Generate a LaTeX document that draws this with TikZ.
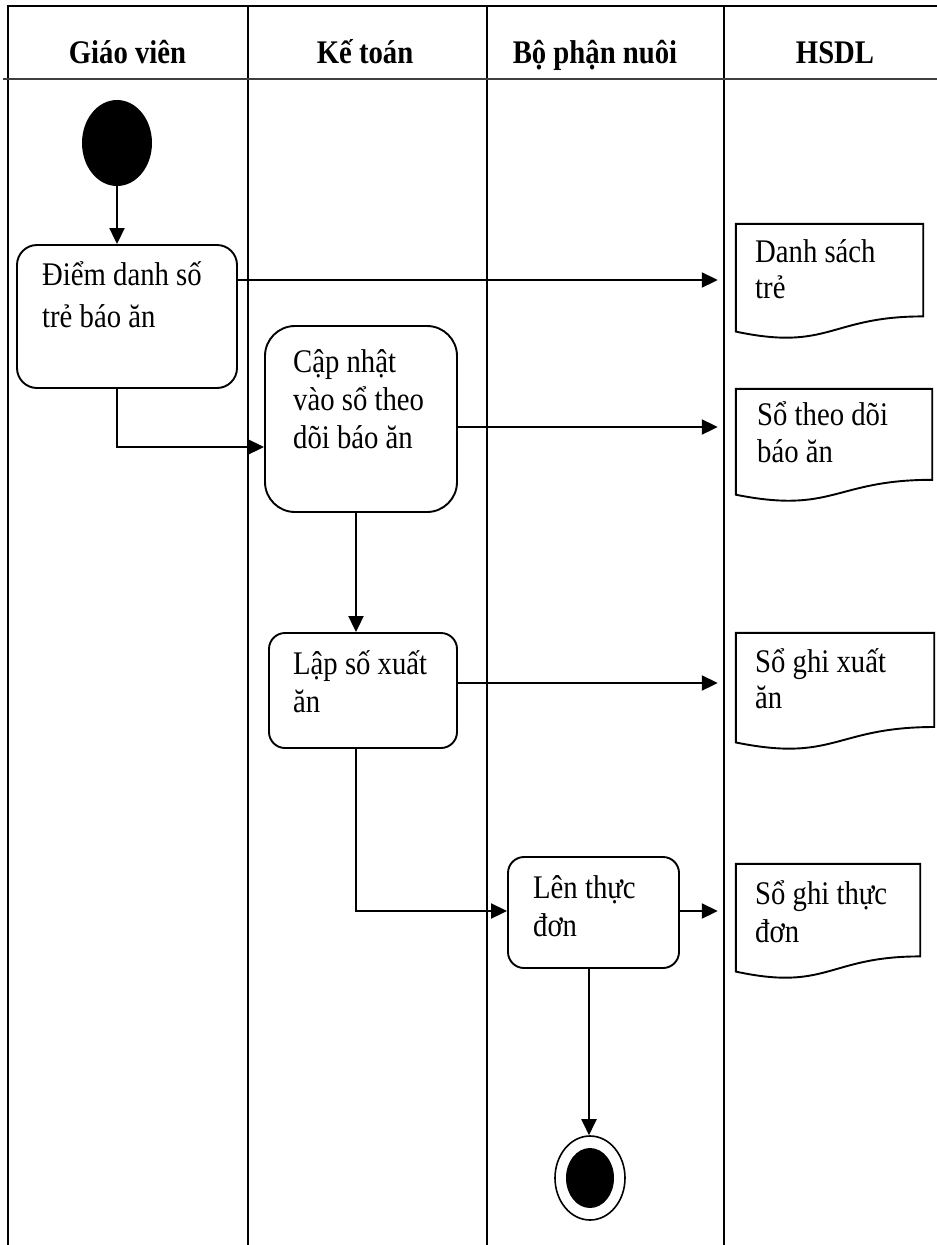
\documentclass[tikz,border=0pt]{standalone}
\usepackage{fontspec}
\setmainfont{Liberation Serif}[FakeStretch=0.87]
\usetikzlibrary{arrows.meta,shapes.geometric,calc}

% outline of a document symbol: flat top, wavy bottom edge
\newcommand\docoutline[2]{%
  \draw[docline] (#1.north west) -- (#1.north east) -- (#1.south east)
    .. controls (#1.south) and ($(#1.south)+(0,0.305*#2)$) ..
    ($(#1.south west)+(0,0.132*#2)$) -- cycle;}
% first-line strut for the labels
\newcommand\topstrut{\rule{0pt}{34pt}}

\begin{document}
\begin{tikzpicture}[x=1pt,y=-1pt,
  lane/.style={line width=2pt},
  actbox/.style={draw,line width=1.9pt,rounded corners=#1,inner sep=0pt,fill=white},
  docnode/.style={draw=none,inner sep=0pt},
  docline/.style={line width=1.9pt},
  flow/.style={line width=2pt,-{Triangle[length=16pt,width=15pt]}},
  txt/.style={anchor=north west,inner sep=0pt,align=left,font=\fontsize{33}{38}\selectfont},
  head/.style={anchor=base,inner sep=0pt,font=\fontsize{33}{38}\selectfont\bfseries}
]
\useasboundingbox (0,0) rectangle (937,1245);

% swimlane frame
\draw[lane] (937,6) -- (8,6) -- (8,1245);
\draw[lane] (248,6) -- (248,1245);
\draw[lane] (487,6) -- (487,1245);
\draw[lane] (724,6) -- (724,1245);
\draw[line width=2.6pt,black!75] (3,79) -- (937,79);

% lane headers
\node[head] (h1) at (127.5,63) {Giáo viên};
\node[head] (h2) at (365,63) {Kế toán};
\node[head] (h3) at (595,63) {Bộ phận nuôi};
\node[head] (h4) at (835,63) {HSDL};

% initial state
\node[ellipse,fill=black,inner sep=0pt,minimum width=70pt,minimum height=86pt] (start) at (117,143) {};

% activities
\node[actbox=20pt,minimum width=220pt,minimum height=143pt] (b1) at (127,316.5) {};
\node[txt] (t1) at (42,251) {\topstrut Điểm danh số\\[4pt]trẻ báo ăn};

\node[actbox=30pt,minimum width=192pt,minimum height=186pt] (b2) at (361,419) {};
\node[txt] (t2) at (293,338) {\topstrut Cập nhật\\vào sổ theo\\dõi báo ăn};

\node[actbox=16pt,minimum width=188pt,minimum height=115pt] (b3) at (363,690.5) {};
\node[txt] (t3) at (293,640) {\topstrut Lập số xuất\\ăn};

\node[actbox=16pt,minimum width=171pt,minimum height=111pt] (b4) at (593.5,912.5) {};
\node[txt] (t4) at (533,864) {\topstrut Lên thực\\đơn};

% data stores (documents)
\node[docnode,minimum width=187pt,minimum height=92.2pt] (d1) at (829.5,270.1) {};
\docoutline{d1}{115}
\node[txt,font=\fontsize{33}{36}\selectfont] (e1) at (755,228) {\topstrut Danh sách\\trẻ};

\node[docnode,minimum width=196pt,minimum height=90.6pt] (d2) at (834,434.3) {};
\docoutline{d2}{113}
\node[txt,font=\fontsize{33}{37}\selectfont] (e2) at (757,391) {\topstrut Sổ theo dõi\\báo ăn};

\node[docnode,minimum width=198pt,minimum height=93.8pt] (d3) at (835,679.9) {};
\docoutline{d3}{117}
\node[txt,font=\fontsize{33}{36}\selectfont] (e3) at (755,638) {\topstrut Sổ ghi xuất\\ăn};

\node[docnode,minimum width=184pt,minimum height=92.2pt] (d4) at (828,910.1) {};
\docoutline{d4}{115}
\node[txt] (e4) at (755,870) {\topstrut Sổ ghi thực\\đơn};

% final state
\node[ellipse,draw,line width=1.6pt,fill=white,inner sep=0pt,minimum width=70pt,minimum height=84pt] (stop) at (590,1178) {};
\node[ellipse,fill=black,inner sep=0pt,minimum width=48pt,minimum height=60pt] (stopdot) at (stop.center) {};

% control flow
\draw[flow] (start.south) -- (start.south |- b1.north);
\draw[flow,shorten >=18pt] (b1.east |- 0,280) -- (d1.west |- 0,280);
\draw[flow] (start.south |- b1.south) |- (b2.west |- 0,447);
\draw[flow,shorten >=18pt] (b2.east |- 0,427) -- (d2.west |- 0,427);
\draw[flow] (356,0 |- b2.south) -- (356,0 |- b3.north);
\draw[flow,shorten >=18pt] (b3.east |- 0,683) -- (d3.west |- 0,683);
\draw[flow] (356,0 |- b3.south) |- (b4.west |- 0,911);
\draw[flow,shorten >=18pt] (b4.east |- 0,911) -- (d4.west |- 0,911);
\draw[flow] (589,0 |- b4.south) -- (589,0 |- stop.north);
\end{tikzpicture}
\end{document}
